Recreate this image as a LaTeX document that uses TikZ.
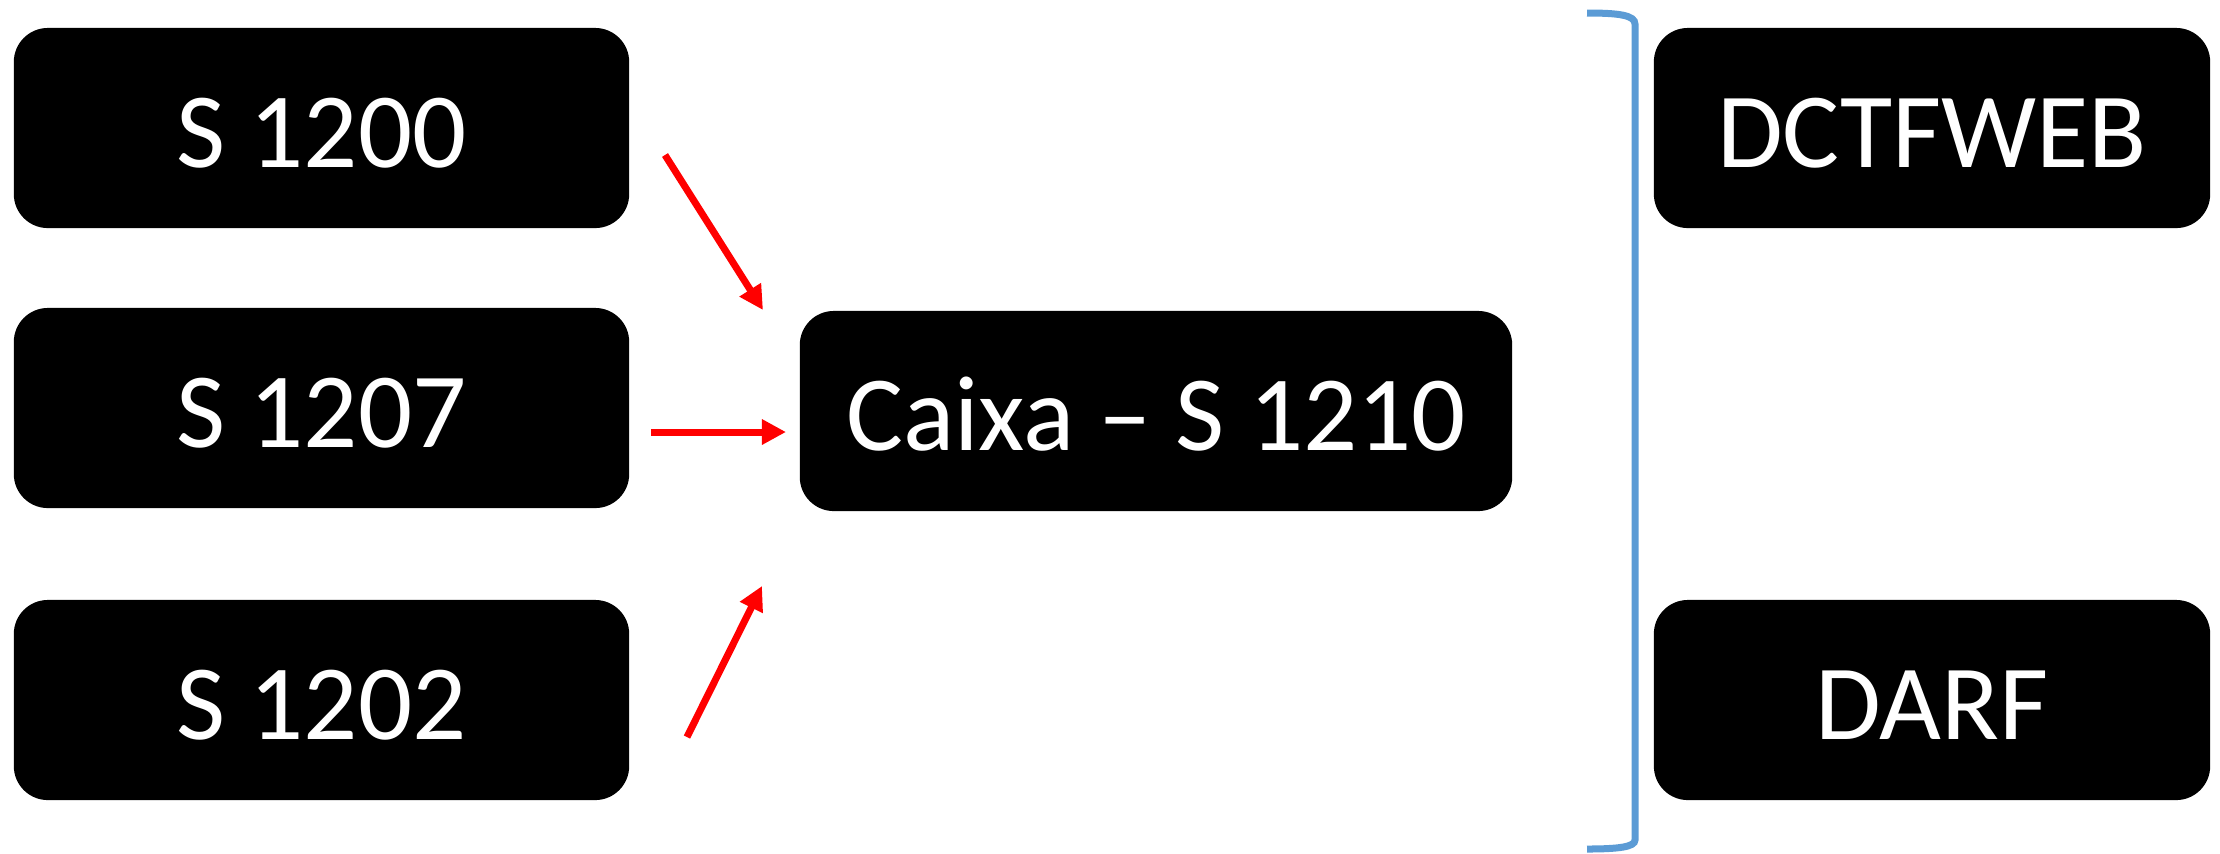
\documentclass[tikz,border=0pt]{standalone}
\usepackage{fontspec}
\setmainfont{Carlito}
\usetikzlibrary{arrows.meta}
\definecolor{bracketblue}{RGB}{91,155,213}
\definecolor{arrowred}{RGB}{255,0,0}
\tikzset{
  box/.style={fill=black, text=white, rounded corners=0.34cm,
    minimum height=2.0cm, inner sep=0pt,
    text height=0.78cm, text depth=0cm,
    font=\fontsize{30.4}{36}\selectfont},
  leftbox/.style={box, minimum width=6.15cm},
  midbox/.style={box, minimum width=7.12cm},
  rightbox/.style={box, minimum width=5.56cm},
  flow/.style={draw=arrowred, line width=0.07cm,
    -{Triangle[length=0.24cm,width=0.24cm]}},
  brace/.style={draw=bracketblue, line width=0.07cm}
}
\begin{document}
\begin{tikzpicture}[x=0.01cm, y=-0.01cm]
  \useasboundingbox (0,0) rectangle (2220,853);

  % source events
  \node[leftbox] (s1200) at (321.5,128) {S 1200};
  \node[leftbox] (s1207) at (321.5,408) {S 1207};
  \node[leftbox] (s1202) at (321.5,700) {S 1202};

  % aggregated event
  \node[midbox] (s1210) at (1156,411) {Caixa -- S 1210};

  % outputs
  \node[rightbox] (dctf) at (1932,128) {DCTFWEB};
  \node[rightbox] (darf) at (1932,700) {DARF};

  % arrow end points
  \coordinate (a1s) at (665,155);
  \coordinate (a1e) at (763,310);
  \coordinate (a2s) at (651,432);
  \coordinate (a2e) at (786,432);
  \coordinate (a3s) at (687,737);
  \coordinate (a3e) at (762,586);

  \draw[flow] (a1s) -- (a1e);
  \draw[flow] (a2s) -- (a2e);
  \draw[flow] (a3s) -- (a3e);

  % right bracket grouping the outputs
  \coordinate (bt) at (1587,13);
  \coordinate (bb) at (1587,849);
  \draw[brace] (bt) .. controls (1618,13) and (1635,15) .. (1635,24)
    -- (1635,840) .. controls (1635,847) and (1618,849) .. (bb);
\end{tikzpicture}
\end{document}
